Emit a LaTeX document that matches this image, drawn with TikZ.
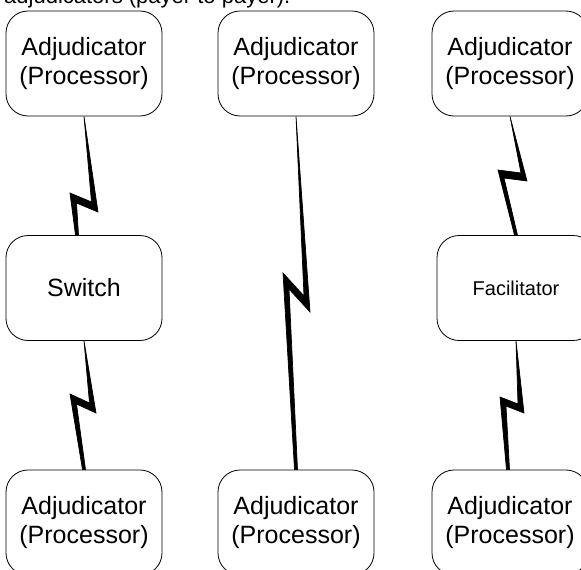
\documentclass[tikz,border=0pt]{standalone}
\usepackage{fontspec}
\setmainfont{Liberation Sans}
\usetikzlibrary{calc}
\tikzset{
  box/.style={draw, line width=0.8pt, rounded corners=22pt, minimum width=156pt,
    minimum height=105pt, align=center, inner sep=0pt,
    font=\fontsize{25}{29}\selectfont},
  bolt/.style={fill=black, draw=black, line width=0.7pt, line join=miter},
}
% [band offset] start, right tip, left tip, end
\newcommand\boltpath[5][6.5,10]{%
  \path[bolt] (#2) -- (#3) -- ($(#4)+(#1)$) -- ($(#5)+(1.5,0)$)
    -- ($(#5)+(-1.5,0)$) -- (#4) -- ($(#3)-(#1)$) -- cycle;
}
\begin{document}
\begin{tikzpicture}[x=1pt,y=-1pt]
\useasboundingbox (0,0) rectangle (581,570);
\clip (0,0) rectangle (581,570);
\node[anchor=base west, inner sep=0pt, font=\fontsize{22}{26}\selectfont] (title) at (4,4) {adjudicators (payer to payer).};

\node[box] (tl) at (84,63.5) {Adjudicator\\(Processor)};
\node[box] (tm) at (296,63.5) {Adjudicator\\(Processor)};
\node[box] (tr) at (510,63.5) {Adjudicator\\(Processor)};
\node[box] (sw) at (84,288) {Switch};
\node[box, minimum width=158pt, font=\fontsize{20}{24}\selectfont] (fa) at (516,288) {Facilitator};
\node[box] (bl) at (84,522.5) {Adjudicator\\(Processor)};
\node[box] (bm) at (296,522.5) {Adjudicator\\(Processor)};
\node[box] (br) at (510,522.5) {Adjudicator\\(Processor)};

% left column
\coordinate (lt1) at (98,212);
\coordinate (lt2) at (70,193);
\boltpath{tl.south}{lt1}{lt2}{$(sw.north)+(-7,0)$}
\coordinate (lb1) at (96,413);
\coordinate (lb2) at (70,394);
\boltpath{sw.south}{lb1}{lb2}{bl.north}
% middle column
\coordinate (m1) at (310,312);
\coordinate (m2) at (283,273);
\boltpath[6,16]{tm.south}{m1}{m2}{bm.north}
% right column
\coordinate (rt1) at (527,181);
\coordinate (rt2) at (498,170);
\boltpath[6,8]{tr.south}{rt1}{rt2}{fa.north}
\coordinate (rb1) at (524,413);
\coordinate (rb2) at (500,397);
\boltpath[6,9]{fa.south}{rb1}{rb2}{$(br.north)+(-2,0)$}
\end{tikzpicture}
\end{document}
